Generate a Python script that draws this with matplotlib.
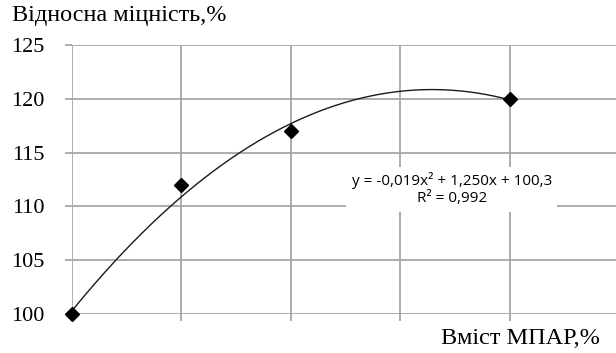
import numpy as np
import matplotlib.pyplot as plt

# вміст МПАР, % і відносна міцність, %
content = [0, 10, 20, 40]
strength = [100, 112, 117, 120]

# поліноміальний тренд 2-го степеня: a*x^2 + b*x + c
trend_coef = [-0.019, 1.250, 100.3]
r_squared = 0.992

y_ticks = [100, 105, 110, 115, 120, 125]
x_grid = [0, 10, 20, 30, 40]

plt.rcParams['font.family'] = ['Liberation Serif', 'DejaVu Serif']

fig = plt.figure(figsize=(6.16, 3.53), dpi=100)
ax = fig.add_axes([72 / 616, 39 / 353, 544 / 616, 269 / 353])

grid_col = '#a6a6a6'
for s in ax.spines.values():
    s.set_visible(False)

ax.set_xlim(0, 49.7)
ax.set_ylim(100, 125)
ax.set_yticks(y_ticks)
ax.set_xticks(x_grid)
ax.set_xticklabels([])
ax.grid(True, color=grid_col, linewidth=1.3)
ax.tick_params(axis='both', color=grid_col, width=1.3, length=5, direction='out')
ax.tick_params(axis='y', labelsize=16, pad=15)
ax.set_axisbelow(True)

xs = np.linspace(0, 40, 200)
ax.plot(xs, np.polyval(trend_coef, xs), color='#1a1a1a', linewidth=1.0, zorder=3)
ax.plot(content, strength, linestyle='none', marker='D', markersize=7,
        color='black', zorder=4, clip_on=False)

a, b, c = trend_coef
eq = (f'y = {a:.3f}x² + {b:.3f}x + {c:.1f}\nR² = {r_squared:.3f}').replace('.', ',')
ax.text(34.7, 111.6, eq, ha='center', va='center', fontsize=11,
        family=['Open Sans', 'DejaVu Sans'], linespacing=1.2, zorder=5,
        bbox=dict(facecolor='white', edgecolor='none', pad=4))

fig.text(12 / 616, 1 - 16 / 353, 'Відносна міцність,%', fontsize=17.5, va='center', ha='left')
fig.text(600 / 616, 1 - 338 / 353, 'Вміст МПАР,%', fontsize=17.5, va='center', ha='right')

fig.savefig('out.png', dpi=100)
